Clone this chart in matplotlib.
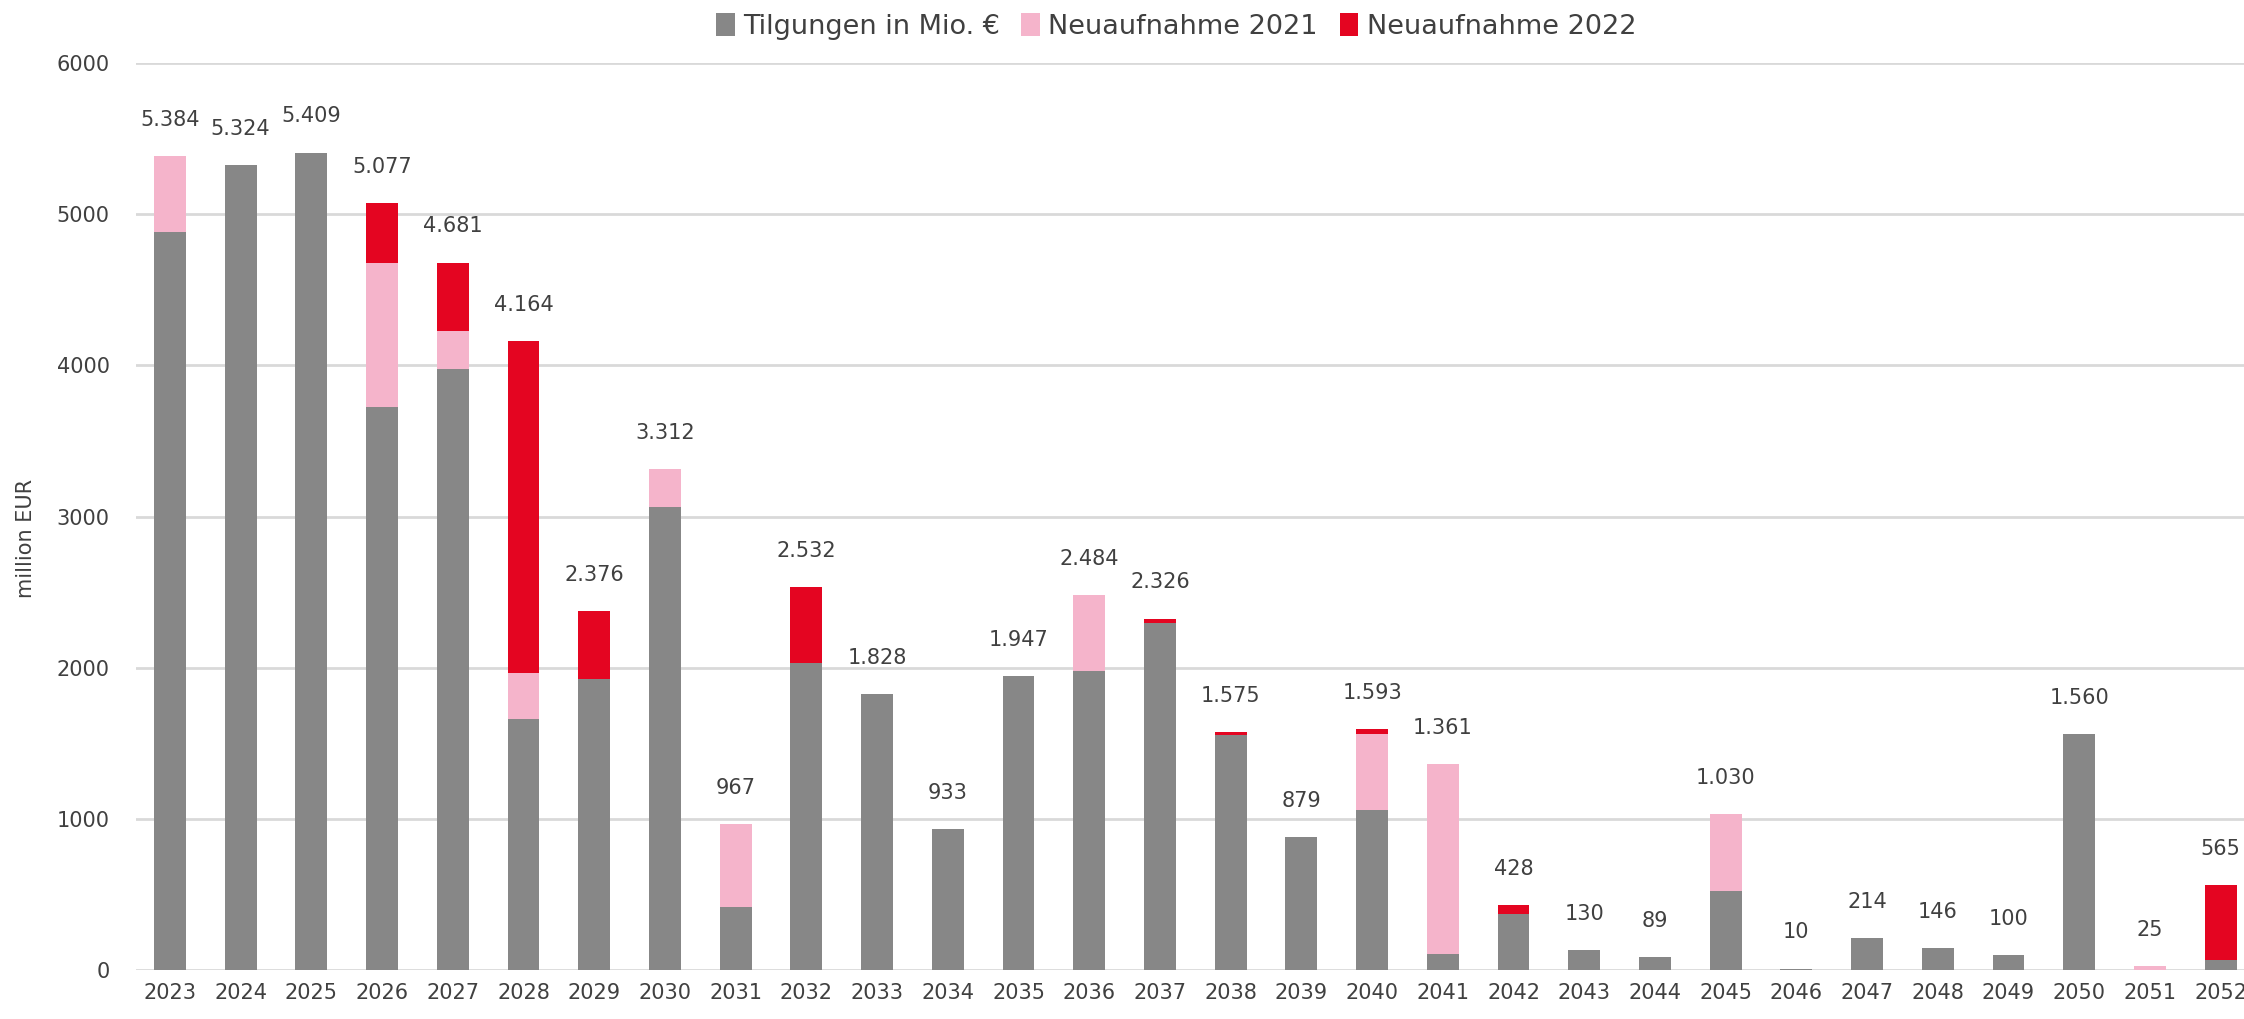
import numpy as np
import matplotlib
matplotlib.use("Agg")
import matplotlib.pyplot as plt

# Werte (Mio. EUR)
years = [str(y) for y in range(2023, 2053)]
tilgungen = [4880, 5324, 5409, 3725, 3980, 1660, 1924, 3061, 417, 2030,
             1828, 933, 1947, 1981, 2297, 1556, 879, 1058, 106, 368,
             130, 89, 525, 10, 214, 146, 100, 1560, 0, 64]
neu_2021 = [504, 0, 0, 950, 249, 304, 0, 251, 550, 0,
            0, 0, 0, 503, 0, 0, 0, 502, 1255, 0,
            0, 0, 505, 0, 0, 0, 0, 0, 25, 0]
neu_2022 = [0, 0, 0, 402, 452, 2200, 452, 0, 0, 502,
            0, 0, 0, 0, 29, 19, 0, 33, 0, 60,
            0, 0, 0, 0, 0, 0, 0, 0, 0, 501]
y_ticks = [0, 1000, 2000, 3000, 4000, 5000, 6000]

GRAY = '#878787'
PINK = '#f5b4cb'
RED = '#e40521'
TEXT = '#404040'

plt.rcParams['font.family'] = ['DejaVu Sans']

fig = plt.figure(figsize=(22.44, 10.19), dpi=100)
ax = fig.add_axes([0.0606, 0.048, 0.9394, 0.89])

x = np.arange(len(years))
t = np.array(tilgungen)
a = np.array(neu_2021)
b = np.array(neu_2022)
width = 0.45

ax.bar(x, t, width, color=GRAY, label='Tilgungen in Mio. €', zorder=3)
ax.bar(x, a, width, bottom=t, color=PINK, label='Neuaufnahme 2021', zorder=3)
ax.bar(x, b, width, bottom=t + a, color=RED, label='Neuaufnahme 2022', zorder=3)

# Summenbeschriftung mit Punkt als Tausendertrenner
totals = t + a + b
for xi, tot in zip(x, totals):
    ax.annotate(f"{tot:,}".replace(',', '.'), (xi, tot), xytext=(0, 26),
                textcoords='offset points', ha='center', va='center',
                fontsize=15, color=TEXT)

ax.set_xlim(-0.48, len(years) - 0.67)
ax.set_ylim(0, 6000)
ax.set_yticks(y_ticks)
ax.set_xticks(x)
ax.set_xticklabels(years)
ax.tick_params(axis='both', length=0, labelsize=15, labelcolor=TEXT)
ax.tick_params(axis='y', pad=19)
ax.tick_params(axis='x', pad=9)
ax.grid(axis='y', color='#d9d9d9', linewidth=2, zorder=0)
ax.set_axisbelow(True)
for s in ax.spines.values():
    s.set_visible(False)

fig.text(0.0116, 0.472, 'million EUR', rotation=90, ha='center', va='center',
         fontsize=15, color=TEXT)

fig.legend(loc='center', bbox_to_anchor=(0.524, 0.974), ncol=3, frameon=False,
           fontsize=19.5, labelcolor=TEXT, handlelength=0.7, handleheight=0.9,
           handletextpad=0.3, columnspacing=0.8)

fig.savefig('out.png', dpi=100)
